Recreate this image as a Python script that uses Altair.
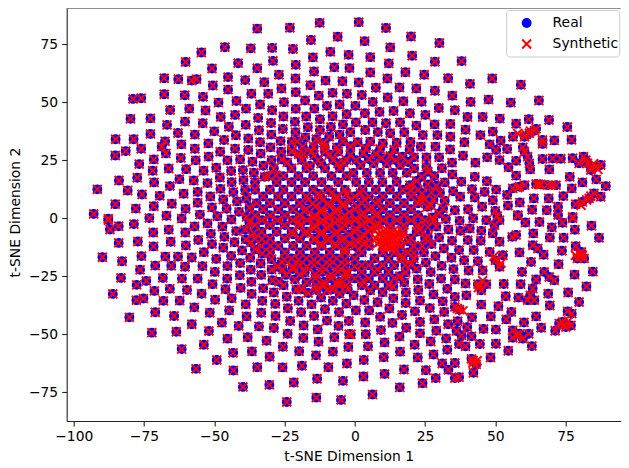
import altair as alt
import pandas as pd

upper_left = [(-34.7,81.7),(-23.1,82.1),(-12.5,84.2),(-15.6,76.8),(-6.1,78.2),(-54.6,71.4),(-46.2,73.7),(-37.0,73.2),(-29.4,73.4),(-22.0,72.9),
(-8.7,71.7),(-14.9,69.3),(-2.2,70.4),(-60.2,67.3),(-41.5,66.8),(-29.1,67.8),(-21.0,66.1),(-50.8,64.5),(-34.7,64.6),(-14.5,63.2),
(-7.3,65.0),(-1.9,64.7),(-27.0,61.8),(-67.8,60.3),(-62.8,59.9),(-58.0,59.3),(-56.3,59.9),(-45.1,60.8),(-39.0,59.5),(-32.2,58.6),
(-21.1,60.2),(-10.4,59.3),(-4.4,59.0),(-50.5,57.2),(-15.8,57.3),(-45.1,55.4),(-26.1,55.9),(-67.8,53.4),(-60.5,53.0),(-54.0,52.3),
(-36.8,53.6),(-30.8,53.6),(-21.0,54.3),(-7.9,54.0),(-12.8,52.8),(-2.8,53.6),(-78.9,51.4),(-76.0,51.7),(-17.7,50.7),(-48.5,49.8),
(-42.1,50.5),(-25.2,50.0),(-33.7,49.0),(-65.7,46.6),(-58.9,47.2),(-53.1,46.4),(-38.7,47.2),(-29.4,46.5),(-21.0,47.1),(-14.4,47.2),
(-9.9,48.4),(-5.4,49.0),(-2.9,44.8),(-42.6,44.5),(-47.7,43.6),(-34.4,43.2),(-25.4,43.8),(-17.3,43.8),(-7.9,43.9),(-79.8,42.8),
(-72.7,43.0),(-60.4,41.6),(-54.1,40.9),(-21.3,41.5),(-12.4,42.6),(-29.8,41.0),(-66.8,40.2),(-38.8,40.2),(-4.2,40.4),(-44.8,39.4),
(-16.7,39.2),(-8.5,39.3),(-25.6,38.4),(-34.1,37.9),(-50.0,37.4),(-12.4,38.0),(-21.1,37.0),(-62.9,36.7),(-72.7,36.3),(-56.9,36.0),
(-42.3,35.7),(-29.7,36.0),(-5.4,36.0),(-85.1,34.0),(-78.7,34.0),(-37.9,34.3),(-46.5,33.7),(-17.6,34.8),(-13.7,34.0),(-9.1,35.1),
(-67.5,33.1),(-33.7,32.7),(-26.4,33.2),(-22.4,32.8),(-4.2,33.0),(-52.1,32.2),(-61.7,31.8),(-68.7,30.8),(-30.0,30.5),(-76.0,29.9),
(-56.9,29.9),(-42.6,29.9),(-37.9,29.4),(-14.6,30.8),(-10.7,30.8),(-6.4,30.5),(-18.5,30.8),(-81.5,28.9),(-47.9,28.6),(-26.2,28.6),(-22.3,29.0),
(-67.2,27.9),(-33.5,27.8),(-18.2,27.6),(-85.2,27.0),(-52.0,26.5),(-61.9,25.9),(-71.5,25.3),(-40.8,25.3),(-56.6,24.9),(-45.3,24.9),
(-36.4,24.3),(-29.6,25.0),(-26.0,25.3),(-76.7,23.3),(-32.5,22.6),(-49.3,21.7),(-66.2,21.4),(-60.0,21.1),(-28.8,21.4),(-71.9,20.4),
(-44.0,20.3),(-53.8,20.4),(-39.8,20.7),(-35.9,19.6),(-48.0,17.5),(-77.4,17.4),(-62.4,16.8),(-32.1,17.8),(-39.6,16.4),(-83.9,16.2),
(-57.3,16.2),(-43.8,15.5),(-71.4,15.4),(-52.4,15.1),(-35.5,15.5),(-65.8,13.8),(-47.8,12.6),(-91.6,12.4),(-80.8,11.9),(-39.0,12.2),
(-55.9,11.3),(-60.9,10.5),(-75.7,10.2),(-43.2,11.2),(-51.4,9.3),(-69.4,9.6),(-46.8,8.0),(-55.9,6.6),(-65.1,6.2),(-85.2,6.0),
(-41.9,7.2),(-71.5,5.1),(-50.8,4.6),(-77.9,4.1),(-60.2,4.0),(-45.6,4.0),(-41.2,2.7),(-92.9,1.8),(-55.1,1.5),(-67.0,1.0),
(-73.1,0.0),(-61.6,-0.2),(-87.7,-0.3),(-48.9,0.8)]

lower_left = [(-87.7,-0.9),(-87.1,-4.9),(-84.0,-3.5),(-78.6,-2.6),(-71.7,-6.2),(-66.2,-5.0),(-60.3,-6.2),(-57.0,-3.6),(-52.4,-2.3),(-47.1,-3.7),
(-43.9,-0.6),(-42.2,-5.6),(-51.2,-6.8),(-46.4,-8.1),(-84.0,-10.7),(-77.2,-10.1),(-65.5,-10.2),(-55.7,-9.4),(-71.6,-12.2),(-60.1,-11.8),
(-50.8,-11.2),(-42.8,-10.4),(-38.8,-9.2),(-46.8,-12.8),(-89.8,-16.9),(-75.9,-16.4),(-67.4,-16.6),(-62.9,-16.6),(-58.0,-17.0),(-53.7,-14.7),
(-40.1,-14.0),(-44.0,-16.3),(-82.8,-18.6),(-49.3,-17.6),(-37.2,-17.1),(-32.9,-15.3),(-71.0,-20.5),(-65.3,-20.6),(-60.4,-21.0),(-54.2,-20.7),
(-45.3,-20.7),(-40.8,-19.4),(-33.5,-19.6),(-29.6,-17.7),(-26.0,-18.9),(-76.4,-22.3),(-49.8,-23.2),(-37.0,-22.3),(-29.6,-22.2),(-22.1,-22.0),
(-25.6,-22.2),(-40.9,-24.6),(-33.3,-24.5),(-17.8,-23.5),(-83.2,-25.8),(-68.3,-25.8),(-61.5,-26.1),(-55.9,-26.1),(-45.4,-26.1),(-29.3,-26.8),
(-36.8,-27.5),(-21.3,-26.4),(-25.3,-29.0),(-74.2,-27.1),(-77.6,-28.8),(-50.6,-28.5),(-17.2,-27.7),(-13.7,-29.2),(-6.8,-28.0),(-40.6,-30.1),
(-32.6,-30.3),(-71.3,-31.4),(-65.8,-30.5),(-59.7,-31.0),(-46.0,-30.7),(-20.8,-30.8),(-9.9,-31.1),(-28.8,-32.1),(-54.5,-32.6),(-86.1,-32.7),
(-36.7,-32.7),(-16.6,-32.3),(-5.4,-32.6),(-24.2,-33.9),(-12.0,-34.3),(-43.8,-34.6),(-75.2,-34.7),(-77.7,-35.4),(-49.7,-35.2),(-68.1,-35.7),
(-62.3,-35.6),(-32.9,-35.7),(-20.0,-35.7),(-7.8,-35.7),(-38.8,-37.2),(-28.3,-37.0),(-15.4,-37.2),(-3.0,-36.9),(-57.1,-38.5),(-23.8,-38.9),
(-10.6,-39.3),(-44.7,-39.8),(-71.0,-40.6),(-51.6,-40.8),(-33.3,-40.8),(-19.1,-40.6),(-5.6,-40.6),(-80.2,-42.8),(-64.3,-42.2),(-38.5,-42.4),
(-28.2,-42.2),(-14.5,-42.2),(-23.0,-44.4),(-9.9,-44.2),(-2.1,-44.4),(-47.3,-45.1),(-58.0,-45.8),(-41.3,-46.5),(-34.1,-46.7),(-18.2,-46.3),
(-5.8,-46.5),(-28.8,-47.4),(-72.2,-49.4),(-63.5,-49.0),(-51.9,-48.7),(-13.2,-48.0),(-23.9,-49.9),(-2.0,-50.1),(-45.3,-52.0),(-38.1,-51.4),
(-18.3,-51.7),(-7.3,-51.4),(-31.4,-52.9),(-12.9,-53.3),(-53.7,-54.6),(-25.6,-55.5),(-2.3,-55.6),(-61.6,-56.5),(-19.8,-57.4),(-43.3,-58.1),
(-36.6,-57.5),(-7.8,-57.6),(-13.8,-59.2),(-30.3,-59.8),(-49.1,-61.2),(-2.8,-62.7),(-18.8,-63.7),(-34.7,-64.3),(-25.7,-64.4),(-9.4,-64.3),
(-56.5,-65.0),(-43.2,-65.7),(-13.4,-69.3),(-4.2,-70.2),(-21.7,-70.9),(-30.4,-71.9),(-39.8,-72.8),(-13.7,-77.4),(-4.9,-78.4),(-24.2,-79.3)]

upper_right = [(1.4,84.5),(11.1,82.0),(20.0,78.3),(30.1,75.5),(3.5,76.3),(12.6,73.6),(5.5,69.4),(20.4,70.0),(28.5,67.4),(38.0,67.7),
(12.1,66.7),(5.5,62.8),(18.0,62.9),(24.7,61.8),(11.6,60.2),(33.2,60.3),(48.9,60.2),(1.4,58.5),(41.0,57.9),(59.1,57.5),
(7.5,56.2),(15.9,56.3),(21.9,55.9),(28.5,54.9),(2.5,53.1),(34.7,52.8),(11.7,52.0),(47.6,51.1),(17.3,50.4),(23.8,50.2),
(6.4,50.1),(41.2,50.1),(55.5,49.8),(65.5,50.7),(0.2,48.4),(29.9,47.5),(8.8,45.8),(13.8,46.2),(35.6,46.5),(19.6,45.2),
(3.6,45.2),(25.1,44.5),(40.1,43.6),(45.5,43.6),(51.6,42.9),(61.9,42.6),(69.1,42.3),(57.4,40.7),(28.4,40.4),(34.0,40.6),
(0.4,41.3),(6.3,41.3),(11.1,40.9),(16.1,41.3),(21.9,39.9),(75.6,39.3),(39.4,38.1),(49.1,37.3),(63.9,37.7),(62.1,36.6),
(60.4,35.1),(64.5,38.5),(3.7,38.0),(8.2,37.1),(12.6,36.6),(17.6,37.0),(-1.6,37.0),(24.2,35.8),(29.4,35.8),(34.0,35.1),
(44.7,35.8),(56.3,35.1),(66.8,33.7),(66.8,32.0),(71.0,33.5),(77.1,33.8),(39.0,32.7),(51.9,33.4),(10.0,32.2),(14.9,32.5),
(19.8,32.8),(5.5,33.0),(1.0,32.7),(48.0,31.8),(54.2,29.8),(23.5,30.8),(28.7,30.8),(33.9,29.6),(50.3,29.4),(59.8,30.5),
(60.4,28.6),(38.5,26.9),(47.1,26.2),(51.5,25.0),(57.4,24.7),(61.5,26.5),(62.1,23.6),(62.4,21.0),(21.1,26.2),(25.5,26.2),
(30.0,26.2),(17.0,26.5),(12.6,26.8),(7.6,27.6),(3.1,27.9),(-1.6,27.2),(66.8,25.5),(70.4,25.7),(73.3,25.6),(77.5,25.8),
(81.4,26.5),(79.8,23.6),(82.8,23.6),(85.7,22.1),(87.5,22.9),(84.0,20.7),(82.2,25.0),(34.6,23.9),(42.9,23.9),(54.7,21.9),
(69.2,21.0),(25.5,22.1),(21.1,21.4),(16.1,22.9),(11.4,23.6),(6.7,23.6),(2.0,22.9),(42.7,17.8),(34.7,18.8),(28.3,18.1),
(23.8,17.8),(47.0,15.9),(57.4,18.3),(76.5,17.8),(85.9,16.7),(32.0,15.4),(37.9,15.7),(81.0,15.4),(89.3,13.8),(64.5,14.7),
(66.2,14.5),(68.6,14.2),(71.6,14.2),(56.2,12.8),(58.6,13.5),(60.4,14.2),(41.7,12.5),(50.3,12.3),(27.3,11.0),(35.0,11.6),
(30.3,10.9),(19.6,14.2),(14.9,15.7),(77.2,12.8),(46.2,11.3),(54.2,10.0),(63.7,8.5),(69.0,8.5),(74.2,9.5),(85.1,10.6),
(87.5,9.2),(83.4,8.5),(81.0,7.0),(78.6,6.0),(37.5,9.2),(42.7,8.9),(49.1,7.7),(58.7,6.7),(54.5,5.4),(72.3,4.9),
(45.3,4.9),(25.8,4.9),(31.4,4.1),(35.6,3.4),(40.3,3.8),(50.0,3.1),(63.1,3.6),(68.3,3.4),(58.0,1.3),(72.3,1.3),(77.5,0.5)]

lower_right = [(58.0,1.0),(77.5,-0.1),(60.7,-1.9),(65.7,-1.7),(70.1,-4.0),(73.9,-2.0),(84.2,-3.3),(78.3,-5.0),(86.9,-8.5),(42.1,-0.1),
(37.3,-1.2),(32.4,-0.4),(27.6,0.3),(50.7,0.9),(49.7,-3.0),(46.8,-0.9),(49.1,-6.6),(51.5,-0.9),(56.0,-8.1),(57.4,-7.3),
(63.5,-6.6),(69.4,-8.4),(74.3,-8.5),(51.5,-10.2),(44.8,-9.8),(45.0,-5.5),(40.9,-4.5),(37.6,-5.5),(33.3,-4.9),(29.0,-3.7),
(30.0,-8.4),(34.6,-9.8),(40.2,-9.5),(78.6,-12.1),(63.3,-11.7),(65.1,-13.1),(58.6,-14.8),(73.7,-14.1),(42.3,-13.8),(37.1,-13.8),
(31.7,-13.1),(27.3,-11.2),(24.6,-14.8),(48.0,-14.6),(52.7,-16.0),(50.0,-18.2),(51.5,-21.0),(67.2,-15.8),(80.4,-16.7),(81.6,-17.4),
(79.2,-17.4),(80.6,-14.6),(62.7,-18.9),(72.5,-19.9),(28.7,-16.4),(34.4,-17.1),(38.9,-18.2),(43.8,-18.6),(25.3,-19.2),(30.9,-20.6),
(35.1,-22.0),(22.0,-21.8),(27.0,-23.3),(40.5,-22.6),(45.5,-22.6),(59.5,-23.2),(67.4,-23.2),(69.2,-25.4),(71.0,-26.8),(78.2,-24.4),
(84.7,-23.1),(64.5,-26.5),(22.4,-26.4),(30.7,-26.1),(35.6,-26.5),(18.1,-23.5),(17.6,-27.7),(26.5,-28.4),(39.4,-28.2),(32.9,-30.5),
(44.4,-29.0),(46.8,-28.5),(43.8,-28.5),(45.0,-31.1),(53.0,-28.4),(59.0,-28.5),(82.4,-29.5),(63.3,-30.4),(62.4,-33.3),(61.5,-35.4),
(63.9,-35.4),(68.8,-32.6),(75.9,-32.1),(13.7,-29.5),(18.2,-32.1),(22.6,-31.0),(28.0,-32.9),(9.9,-32.0),(5.5,-31.1),(35.6,-34.0),
(39.7,-33.3),(53.7,-33.7),(58.2,-34.3),(13.7,-34.6),(8.1,-36.3),(3.4,-35.3),(-0.4,-33.3),(18.1,-36.6),(23.2,-35.6),(31.3,-35.9),
(79.8,-36.2),(45.0,-37.3),(51.1,-38.0),(69.4,-37.7),(12.3,-39.0),(5.1,-39.8),(0.4,-39.8),(21.4,-40.2),(26.7,-38.8),(35.6,-38.3),
(37.3,-39.5),(31.8,-40.5),(75.7,-40.2),(77.2,-41.2),(55.7,-40.5),(64.5,-42.4),(48.4,-42.4),(41.7,-42.8),(53.9,-43.7),(16.8,-41.8),
(9.0,-42.6),(28.3,-43.7),(23.2,-44.8),(36.6,-44.5),(33.2,-45.8),(60.2,-45.0),(3.7,-45.0),(13.4,-45.2),(18.3,-47.3),(9.3,-48.3),
(73.9,-44.8),(75.1,-47.0),(76.9,-46.3),(72.7,-45.5),(66.3,-47.3),(71.3,-48.6),(45.8,-47.8),(50.2,-48.1),(40.0,-47.0),(29.0,-48.6),
(23.2,-49.7),(-1.4,-50.1),(3.9,-50.1),(15.9,-51.1),(36.2,-48.7),(38.0,-50.6),(41.5,-51.0),(56.2,-48.4),(56.2,-51.6),(58.6,-49.9),
(59.8,-52.0),(61.9,-49.9),(32.5,-51.9),(27.0,-53.2),(10.6,-53.6),(4.7,-55.3),(21.3,-54.6),(37.1,-54.3),(39.4,-55.3),(44.5,-54.3),
(50.2,-54.2),(63.0,-55.2),(54.6,-57.2),(32.9,-56.8),(16.1,-57.6),(28.0,-58.8),(10.3,-60.0),(22.4,-60.1),(3.2,-61.2),(48.3,-60.1),
(41.5,-60.7),(43.2,-63.1),(42.1,-61.4),(31.1,-62.7),(35.6,-62.5),(17.5,-65.3),(25.3,-65.6),(33.3,-65.4),(42.2,-66.7),(10.6,-67.2),
(3.1,-68.3),(28.8,-69.0),(35.6,-69.0),(37.1,-68.6),(24.1,-71.2),(16.0,-73.0),(6.3,-76.1)]

center_rows = [
(28.7,[-22.5,-15.4,-10.6,-5.9]),
(25.0,[-18.9,-13.0,-7.7,-2.9]),
(21.5,[-22.5,-17.2,-10.6,-5.3]),
(19.5,[-0.5,4.3,9.0,13.5,18.5]),
(18.1,[-30.8,-25.4,-20.1,-14.8,-8.3,-2.9]),
(15.5,[-27.8,-22.5,-17.7,-11.8,-5.9,0.5,5.0,9.8]),
(12.2,[-35.5,-30.2,-25.4,-20.1,-14.8,-9.5,-3.5,2.8,7.5,12.5,17.0,22.5]),
(9.3,[-32.6,-27.2,-22.5,-17.2,-12.4,-6.5,0.0,5.0,10.0,15.0,20.0]),
(6.4,[-34.9,-30.2,-24.9,-19.5,-14.8,-9.5,-4.1,2.5,7.5,12.5,17.5,22.5]),
(3.8,[-32.6,-27.2,-21.9,-17.2,-11.8,-6.5,0.0,5.0,10.0,15.0,20.0]),
(1.2,[-35.5,-30.2,-24.9,-19.5,-14.2,-8.9,-3.5,2.5,7.5,12.5,17.5,22.5]),
(-0.9,[-33.0,-27.5,-22.0,-17.0,-11.5,-6.0,0.0,5.0,10.0,15.0,20.0,25.0]),
(-3.0,[-35.5,-30.2,-24.9,-19.5,-14.2,-8.9,-3.5,2.5,7.5,12.5,17.5,22.5]),
(-5.9,[-33.2,-27.8,-22.5,-17.2,-11.8,-6.5,0.0,5.0,17.0,22.0]),
(-8.8,[-35.5,-30.2,-24.9,-19.5,-14.2,-8.9,-3.5,2.5,20.0,25.0]),
(-12.0,[-33.2,-27.2,-21.9,-17.2,-11.8,-6.5,0.0,5.0,16.0,21.0]),
(-14.8,[-30.2,-24.9,-19.5,-14.2,-8.9,-3.5,2.5,10.0,14.0,19.0]),
(-17.4,[-22.5,-17.2,-11.8,-6.5,0.0,7.0,12.0,17.0,21.0]),
(-20.3,[-19.5,-14.5,-9.0,-3.5,2.5,5.0,10.0,14.0,18.0]),
(-23.2,[-11.5,-6.0,-3.0,2.5,7.0,12.0]),
(-26.0,[-14.0,-8.5,-3.0,0.0,5.0,10.0,14.0]),
(-29.0,[-11.0,-5.5,-3.0,2.5,7.0,12.0]),
]

center_fill = [(-13.0,10.5),(-8.0,11.0),(-3.0,10.5),(2.0,10.8),(-11.5,7.8),(-6.5,8.0),(-1.5,7.8),(3.5,7.8),(8.5,7.5),(-14.0,5.0),(-9.0,5.2),(-4.0,5.2),(1.0,5.0),(6.0,4.8),
(-12.0,2.5),(-7.0,2.5),(-2.0,2.5),(3.0,2.2),(8.0,2.0),(-14.5,0.0),(-9.5,0.0),(-4.5,0.0),(0.5,-0.2),(5.5,-1.0),(-12.0,-2.0),(-7.0,-2.0),(-2.0,-1.8),(3.5,-2.0),(8.5,-2.5),
(-14.5,-4.5),(-9.5,-4.5),(-4.5,-4.5),(0.5,-4.5),(5.5,-4.5),(-12.0,-7.0),(-7.0,-7.0),(-2.0,-7.0),(3.0,-7.0),(-14.5,-9.5),(-9.5,-9.5),(-4.5,-9.5),(0.5,-9.5),(5.0,-9.5),
(-12.0,-11.0),(-7.0,-11.0),(-2.0,-11.0),(3.0,-11.0),(-18.0,3.0),(-20.0,-1.5),(-18.0,-6.5),(-22.0,-7.0),(-16.5,8.0),(-3.5,-13.5),(1.5,-13.5)]

gap_fill = [(-38.5,8.5),(-37.5,4.5),(-38.5,0.5),(-37.5,-2.0),(-39.0,-5.0),(-36.0,-6.5),(-37.0,-10.5),(-33.0,-9.0),(-35.5,-13.5),(-30.0,-12.0),
(-24.0,24.0),(-20.0,27.5),(-14.5,27.0),(-9.0,27.5),(-4.0,24.0),(0.5,25.0),(-12.0,23.5),(-6.0,23.5),(-16.0,22.5),(-28.0,18.5),
(-20.5,33.0),(-11.0,32.5),(4.0,30.0),(9.0,29.8),(14.0,29.5),(19.5,29.5),(-1.5,31.0),(5.0,25.5),(9.5,25.8),(14.5,25.0),(19.0,24.2),
(22.0,16.0),(26.0,14.5),(24.0,10.5),(20.0,12.0),(28.0,8.0),(32.0,7.5),(25.0,8.0),(29.0,14.0),(26.0,20.0),(31.0,21.5),
(-24.5,-24.5),(-19.5,-24.3),(-14.0,-24.3),(-8.5,-24.3),(-3.0,-24.3),(-27.0,-27.5),(-11.0,-27.5),(-5.5,-27.5),(-19.0,-30.7),(-13.5,-31.0),(-8.0,-30.7),(-2.5,-30.7),
(-27.5,-21.0),(-22.0,-21.0),(-17.0,-21.0),(-11.5,-21.0),(-6.0,-21.0),(0.0,-21.0),(-25.0,-18.0),(-20.0,-18.0),(-14.5,-18.0),(-9.0,-18.0),(-3.5,-18.0),
(19.0,-10.0),(23.0,-5.0),(26.0,-8.0),(24.0,-12.0),(28.0,-1.0),(30.0,2.0),(27.0,5.5),(23.0,8.0),(26.0,-4.0),(21.0,-15.0),(16.5,-16.0),(20.0,-20.0),(8.0,-22.0),(3.0,-27.0),(16.0,-25.0)]

synth_cluster = [(11.4,-8.8),(10.0,-7.5),(12.5,-7.0),(9.0,-9.5),(13.8,-9.8),(11.0,-10.5),(8.5,-7.0),(14.5,-8.0),(10.5,-5.8),(12.8,-5.5),
(8.0,-11.0),(13.0,-11.5),(15.5,-10.5),(11.8,-12.5),(9.8,-12.0),(15.0,-6.5),(7.5,-8.8),(16.5,-9.0),(14.0,-12.8),(11.0,-4.8),
(12.0,-8.0),(10.5,-9.2),(13.0,-8.8),(9.5,-6.5),(16.0,-12.0),(7.0,-5.5),(17.0,-7.5),(12.2,-10.2),(10.2,-11.0),(14.2,-5.0),
(11.0,-6.8),(12.0,-9.5),(9.8,-8.2),(13.6,-7.2),(11.2,-11.8),(8.8,-10.5),(14.8,-11.0),(12.8,-12.8),
(80.0,-15.5),(81.0,-16.0),(78.5,-16.0),(45.5,-27.0),(44.0,-30.0),(52.0,-19.5),(49.5,-16.5),(85.0,23.5),(84.0,22.0),(86.5,21.0),
(80.5,5.5),(82.5,7.8),(84.0,9.5),(58.0,36.5),(61.0,36.0),(62.5,37.5),(36.5,-39.0),(38.5,-40.0),(74.5,-46.0),(76.0,-44.5),
(58.0,13.2),(65.5,14.5),(70.0,14.2),(57.5,-50.5),(42.0,-62.5),(43.5,-61.5)]

center = [(x, y) for y, xs in center_rows for x in xs]
real = upper_left + lower_left + upper_right + lower_right + center + center_fill + gap_fill
synthetic = real + synth_cluster

rows = [{"x": x, "y": y, "kind": "Real"} for x, y in real] + \
       [{"x": x, "y": y, "kind": "Synthetic"} for x, y in synthetic]
df = pd.DataFrame(rows)

X_PATH = "M-1,-1L1,1M-1,1L1,-1"
FONT = "DejaVu Sans"
W, H = 554, 413
KINDS = ["Real", "Synthetic"]
LEG = dict(title=None, orient="none", legendX=453, legendY=8)

points = alt.Chart(df).mark_point(opacity=1, clip=True).encode(
    x=alt.X("x:Q", scale=alt.Scale(domain=[-102.5, 94.6], nice=False, zero=False),
            axis=alt.Axis(title="t-SNE Dimension 1", values=[-100,-75,-50,-25,0,25,50,75],
                          grid=False, titlePadding=6, titleX=282)),
    y=alt.Y("y:Q", scale=alt.Scale(domain=[-87.5, 90.6], nice=False, zero=False),
            axis=alt.Axis(title="t-SNE Dimension 2", values=[-75,-50,-25,0,25,50,75],
                          grid=False, titleY=204, titleX=-44)),
    stroke=alt.Stroke("kind:N", scale=alt.Scale(domain=KINDS, range=["#0000ff","#ff0000"]), legend=alt.Legend(**LEG)),
    fill=alt.Fill("kind:N", scale=alt.Scale(domain=KINDS, range=["#0000ff","transparent"]), legend=alt.Legend(**LEG)),
    shape=alt.Shape("kind:N", scale=alt.Scale(domain=KINDS, range=["circle", X_PATH]), legend=alt.Legend(**LEG)),
    size=alt.Size("kind:N", scale=alt.Scale(domain=KINDS, range=[72, 80]), legend=alt.Legend(**LEG)),
    strokeWidth=alt.StrokeWidth("kind:N", scale=alt.Scale(domain=KINDS, range=[1.39, 2.0]), legend=alt.Legend(**LEG)),
)

top_spine = alt.Chart(pd.DataFrame({"a":[0]})).mark_rule(color="#222222", strokeWidth=1.1).encode(
    x=alt.value(0), x2=alt.value(W), y=alt.value(0))

legend_box = alt.Chart(pd.DataFrame({"a":[0]})).mark_rect(
    fill="white", fillOpacity=0.8, stroke="#cccccc", strokeWidth=1, cornerRadius=3
).encode(x=alt.value(440), x2=alt.value(553), y=alt.value(2.5), y2=alt.value(49))

chart = alt.layer(points, legend_box, top_spine).properties(
    width=W, height=H,
    autosize=alt.AutoSizeParams(type="none"),
    padding={"left": 58.7, "top": 0, "right": 0, "bottom": 44},
).configure_view(stroke=None).configure_axis(
    labelFont=FONT, titleFont=FONT, labelFontSize=13.9, titleFontSize=13.9,
    titleFontWeight="normal", labelColor="black", titleColor="black",
    domainColor="#222222", tickColor="#222222", domainWidth=1.1, tickWidth=1.1, tickSize=5,
    labelPadding=4,
).configure_legend(
    labelFont=FONT, labelFontSize=13.9, labelColor="black", padding=0,
    symbolOffset=0, labelOffset=19, rowPadding=5,
)

chart.save("out.html", embed_options={"renderer": "svg", "actions": False})
